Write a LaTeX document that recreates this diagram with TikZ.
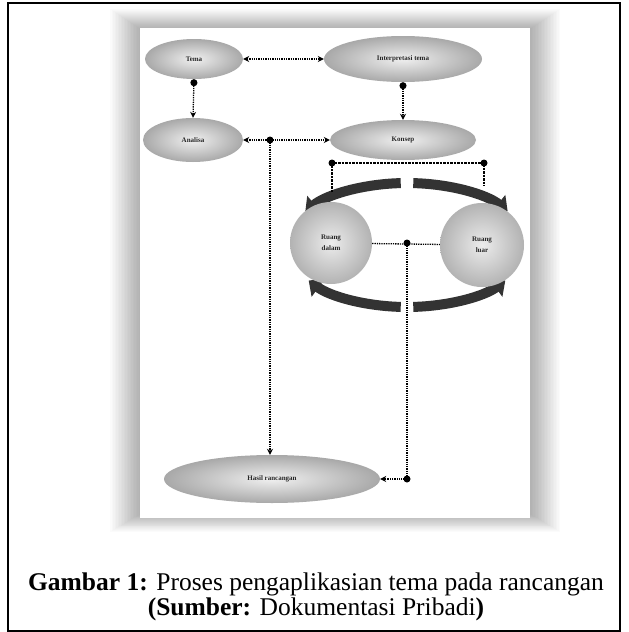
\documentclass[tikz,border=0pt]{standalone}
\usepackage{fontspec}
\setmainfont{Liberation Serif}
\usetikzlibrary{shapes.geometric,arrows.meta}
\tikzset{
  ell/.style={ellipse, shading=radial, inner color=gray!12, outer color=gray!68, draw=none, inner sep=0pt, font=\fontsize{7}{8}\selectfont\bfseries, text=black!85},
  ball/.style={circle, shading=radial, inner color=gray!15, outer color=gray!60, draw=none, inner sep=0pt, minimum size=82pt, align=center, font=\fontsize{7}{11}\selectfont\bfseries, text=black!85},
  conn/.style={densely dotted, line width=1.3pt, black},
  brk/.style={dash pattern=on 2.5pt off 1pt, line width=1.6pt, black},
  ring/.style={line width=10pt, gray!40!black, -{Triangle[width=22pt,length=12pt]}},
  jdot/.style={fill=black},
}
\begin{document}
\begin{tikzpicture}[x=1pt,y=-1pt]
\useasboundingbox (0,0) rectangle (629,632);
\fill[white] (0,0) rectangle (629,632);
% outer frame
\draw[line width=1.5pt] (8,631) -- (8,3) -- (620,3) -- (620,631) -- cycle;
% inner picture with soft shadow
\foreach \i in {1,...,22}{
  \fill[black, opacity=0.014] (143-\i*1.5, 31-\i) rectangle (527+\i*1.5, 512+\i*0.9);
}
\fill[white] (140,28) rectangle (530,518);

% ellipses
\node[ell, minimum width=98pt, minimum height=40pt] (e1) at (194,59) {Tema};
\node[ell, minimum width=158pt, minimum height=46pt] (e2) at (403,59) {Interpretasi tema};
\node[ell, minimum width=100pt, minimum height=44pt] (e3) at (193,140) {Analisa};
\node[ell, minimum width=146pt, minimum height=40pt] (e4) at (403,140) {Konsep};
\node[ell, minimum width=216pt, minimum height=48pt] (e5) at (272,479) {Hasil rancangan};

% ring arrows
\draw[ring] (407,245) ++(-93:120 and 62) arc[start angle=-93, end angle=-148, x radius=120, y radius=62];
\draw[ring] (407,245) ++(-87:120 and 62) arc[start angle=-87, end angle=-33, x radius=120, y radius=62];
\draw[ring] (407,245) ++(93:120 and 62) arc[start angle=93, end angle=145, x radius=120, y radius=62];
\draw[ring] (407,245) ++(87:120 and 62) arc[start angle=87, end angle=35, x radius=120, y radius=62];

% circles
\node[ball] (c1) at (331,243) {Ruang\\dalam};
\node[ball, minimum size=84pt] (c2) at (482,245) {Ruang\\luar};

% junctions
\coordinate (j1) at (270,140);
\coordinate (j2) at (407,243);
\coordinate (j3) at (407,479);
\coordinate (b1) at (332,163);
\coordinate (b2) at (484,163);
\coordinate (b1d) at (332,192);
\coordinate (b2d) at (484,186);

% connectors
\draw[conn, {Stealth[length=6pt,width=6pt]}-{Stealth[length=6pt,width=6pt]}] (e1) -- (e2);
\draw[conn, {Circle[length=7pt]}-{Stealth[length=6pt,width=6pt]}] (e1.south) -- (e3.north);
\draw[conn, {Circle[length=7pt]}-{Stealth[length=6pt,width=6pt]}] (e2.south) -- (e4.north);
\draw[conn, {Stealth[length=6pt,width=6pt]}-{Stealth[length=6pt,width=6pt]}] (e3) -- (e4);
\fill[jdot] (j1) circle (3.5pt);
\draw[conn, -{Stealth[length=6pt,width=6pt]}] (j1) -- (j1 |- e5.north);
\draw[brk] (b1d) -- (b1) -- (b2) -- (b2d);
\fill[jdot] (b1) circle (3.5pt);
\fill[jdot] (b2) circle (3.5pt);
\draw[conn] (c1) -- (c2);
\fill[jdot] (j2) circle (3.5pt);
\draw[conn] (j2) -- (j3);
\fill[jdot] (j3) circle (3.5pt);
\draw[conn, -{Stealth[length=6pt,width=6pt]}] (j3) -- (e5.east);

% caption
\node[align=center, font=\fontsize{25.5}{25}\selectfont] (cap) at (316,597)
  {\textbf{Gambar 1:} Proses pengaplikasian tema pada rancangan\\
   \textbf{(Sumber:} Dokumentasi Pribadi\textbf{)}};
\end{tikzpicture}
\end{document}
